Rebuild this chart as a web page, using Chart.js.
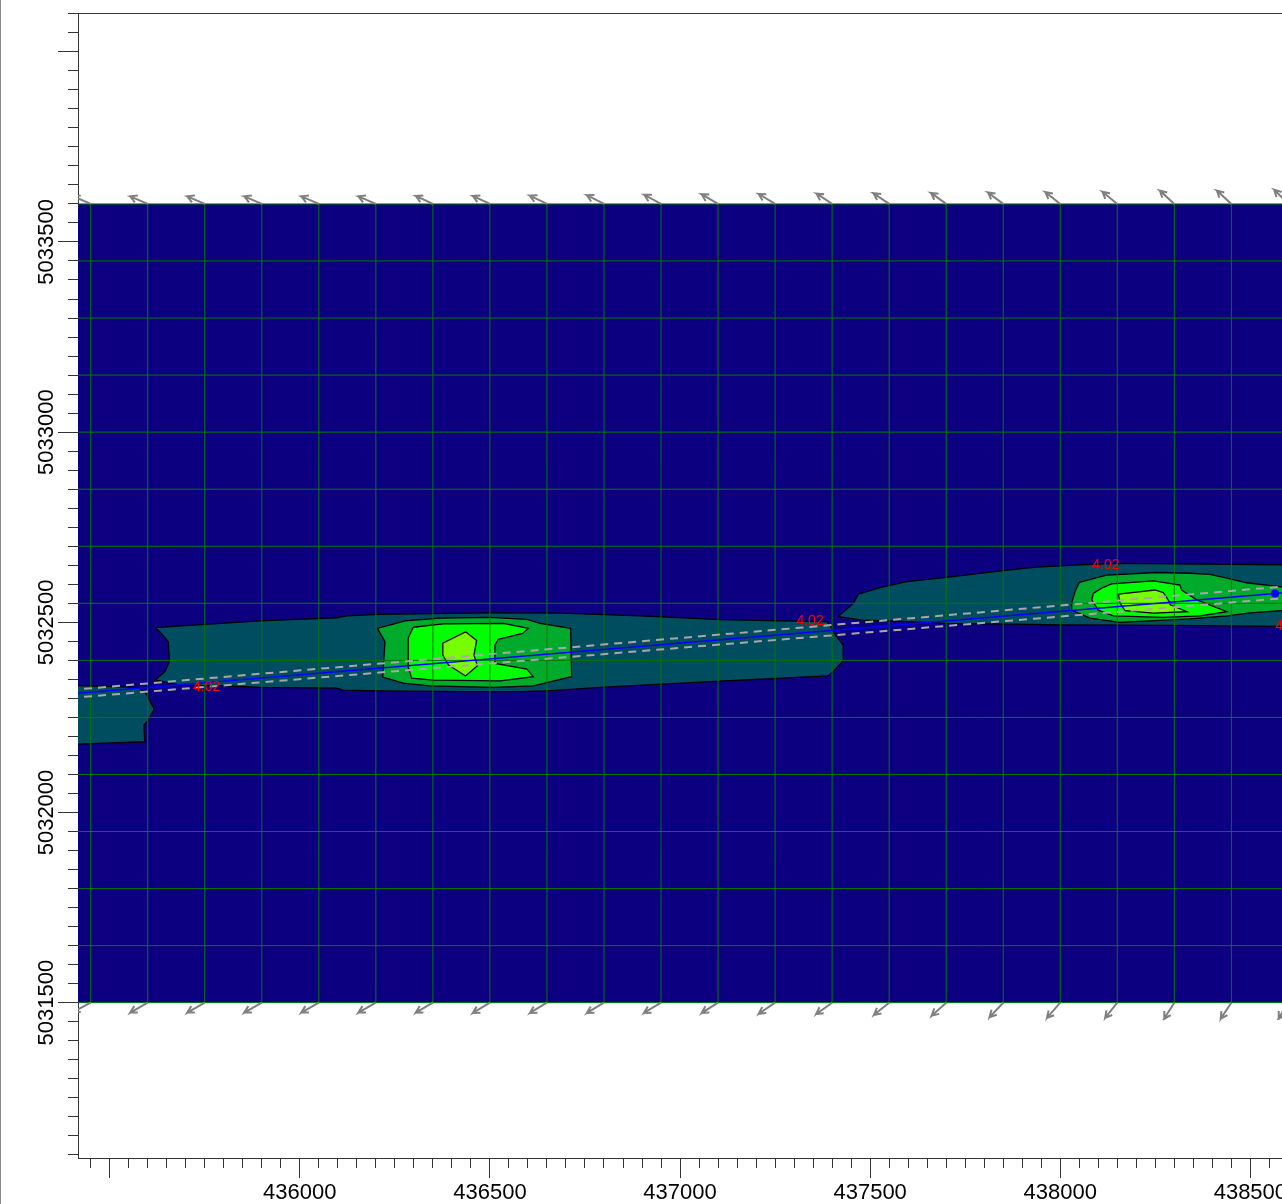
<!DOCTYPE html>
<html lang="en">

<head>
  <meta charset="UTF-8">
  <title>contour map</title>
  <style>
    body { margin: 0; background: #fff; }
    #edge { position: absolute; left: 0; top: 0; width: 1px; height: 1204px; background: #888; }
    canvas { display: block; }
  </style>
</head>

<body>
  <div id="edge"></div>
  <canvas id="myChart" width="1282" height="1204"></canvas>

  <script src="https://cdn.jsdelivr.net/npm/chart.js"></script>
  <script>
    const xLabels = [436000, 436500, 437000, 437500, 438000, 438500]
    const yLabels = [5031500, 5032000, 5032500, 5033000, 5033500]
    const xMajor = [435500, 436000, 436500, 437000, 437500, 438000, 438500]
    const yMajor = [5031500, 5032000, 5032500, 5033000, 5033500, 5034000]

    // model grid nodes
    const gridX = [435450, 435600, 435750, 435900, 436050, 436200, 436350, 436500, 436650, 436800, 436950,
      437100, 437250, 437400, 437550, 437700, 437850, 438000, 438150, 438300, 438450, 438600]
    const gridY = [5031500, 5031650, 5031800, 5031950, 5032100, 5032250, 5032400, 5032550, 5032700,
      5032850, 5033000, 5033150, 5033300, 5033450, 5033600]

    // arrow tip offsets from the top and bottom nodes
    const topDx = [-46, -46, -46, -46, -46, -46, -45, -45, -45, -45, -44, -43, -43, -41, -41, -40, -40, -39, -39, -38, -38, -37]
    const topDy = [20, 20, 20, 20, 20, 20, 21, 21, 22, 23, 24, 25, 26, 27, 28, 29, 30, 31, 32, 35, 35, 37]
    const bottomDx = [-46, -46, -46, -46, -46, -46, -45, -45, -45, -45, -45, -43, -43, -42, -40, -38, -36, -35, -32, -27, -28, -26]
    const bottomDy = [-24, -26, -26, -26, -26, -26, -26, -27, -27, -27, -27, -27, -29, -30, -32, -34, -38, -40, -40, -42, -42, -42]

    const fieldX = [435300, 438700, 438700, 435300]
    const fieldY = [5031500, 5031500, 5033600, 5033600]

    const tealAX = [435396, 435575, 435596, 435604, 435617, 435606, 435600, 435590, 435592, 435396]
    const tealAY = [5032334, 5032329, 5032313, 5032296, 5032272, 5032252, 5032241, 5032230, 5032186, 5032179]

    const tealBX = [435619, 435895, 436097, 436123, 436211, 436500, 436684, 436895, 437105, 437263, 437386, 437399,
      437408, 437429, 437429, 437403, 437388, 437263, 437053, 436790, 436649, 436579, 436421, 436211, 436114, 436097,
      435895, 435808, 435685, 435632, 435619, 435645, 435657, 435654, 435632]
    const tealBY = [5032486, 5032504, 5032512, 5032517, 5032521, 5032525, 5032524, 5032517, 5032507, 5032504, 5032502, 5032484,
      5032467, 5032440, 5032399, 5032370, 5032359, 5032353, 5032343, 5032329, 5032320, 5032318, 5032318, 5032320, 5032322, 5032327,
      5032329, 5032333, 5032335, 5032346, 5032348, 5032370, 5032397, 5032449, 5032475]

    const tealCX = [437416, 437456, 437469, 437526, 437596, 437701, 437850, 437938, 438052, 438157, 438631, 438631,
      438297, 437999, 437876, 437702, 437552, 437478]
    const tealCY = [5032515, 5032550, 5032574, 5032591, 5032607, 5032618, 5032636, 5032645, 5032651, 5032655, 5032651, 5032489,
      5032492, 5032493, 5032495, 5032497, 5032504, 5032506]

    const greenAX = [436204, 436277, 436369, 436500, 436597, 436632, 436712, 436715, 436614, 436509, 436342, 436272, 436218, 436224]
    const greenAY = [5032484, 5032504, 5032511, 5032513, 5032508, 5032497, 5032484, 5032357, 5032333, 5032329, 5032333, 5032340, 5032356, 5032449]

    const brightAX = [436298, 436377, 436535, 436601, 436586, 436522, 436513, 436513, 436597, 436614, 436527, 436351, 436294, 436285, 436285]
    const brightAY = [5032487, 5032496, 5032497, 5032484, 5032471, 5032455, 5032440, 5032392, 5032377, 5032357, 5032346, 5032348, 5032353, 5032383, 5032458]

    const limeAX = [436436, 436465, 436458, 436467, 436436, 436391, 436376, 436376]
    const limeAY = [5032475, 5032452, 5032414, 5032386, 5032359, 5032388, 5032414, 5032445]

    const greenCX = [438050, 438122, 438254, 438341, 438394, 438438, 438490, 438583, 438631, 438631, 438583, 438499, 438439,
      438341, 438157, 438078, 438030, 438030, 438039]
    const greenCY = [5032605, 5032624, 5032631, 5032629, 5032626, 5032616, 5032604, 5032593, 5032588, 5032535, 5032531, 5032525, 5032517,
      5032509, 5032500, 5032511, 5032532, 5032551, 5032581]

    const brightCX = [438087, 438109, 438135, 438245, 438315, 438319, 438359, 438438, 438368, 438270, 438140, 438100, 438083]
    const brightCY = [5032576, 5032590, 5032601, 5032609, 5032598, 5032585, 5032559, 5032528, 5032517, 5032513, 5032517, 5032532, 5032559]

    const limeCX = [438153, 438249, 438271, 438287, 438289, 438333, 438245, 438170, 438157]
    const limeCY = [5032574, 5032585, 5032578, 5032554, 5032546, 5032528, 5032524, 5032531, 5032551]

    const blueX = [435396, 438565, 438631]
    const blueY = [5032312, 5032576, 5032581]
    const dashUpperX = [435396, 438631]
    const dashUpperY = [5032322, 5032598]
    const dashLowerX = [435396, 438631]
    const dashLowerY = [5032301, 5032567]

    const contourLabels = ['4.02', '4.02', '4.02', '4.02']
    const labelX = [435755, 437342, 438120, 438601]
    const labelY = [5032330, 5032503, 5032650, 5032490]

    const zip = (xs, ys) => xs.map((x, i) => ({ x: x, y: ys[i] }))
    const closed = (xs, ys) => { const p = zip(xs, ys); p.push(p[0]); return p }

    const polygon = (xs, ys, color, outline = '#000') => ({
      type: 'line',
      data: closed(xs, ys),
      fill: 'shape',
      backgroundColor: color,
      borderColor: outline,
      borderWidth: 1.3,
      pointRadius: 0,
      tension: 0
    })

    const gap = { x: null, y: null }
    const gridPoints = []
    gridX.forEach(x => gridPoints.push({ x: x, y: gridY[0] }, { x: x, y: gridY[gridY.length - 1] }, gap))
    gridY.forEach(y => gridPoints.push({ x: 435300, y: y }, { x: 438700, y: y }, gap))

    const arrowPoints = (nodeY, dxs, dys) => {
      const pts = []
      gridX.forEach((x, i) => {
        const tip = { x: x + dxs[i], y: nodeY + dys[i] }
        const a = Math.atan2(dys[i], dxs[i]) + Math.PI
        pts.push({ x: x, y: nodeY }, tip)
        pts.push({ x: tip.x + 20 * Math.cos(a + 0.5), y: tip.y + 20 * Math.sin(a + 0.5) }, tip)
        pts.push({ x: tip.x + 20 * Math.cos(a - 0.5), y: tip.y + 20 * Math.sin(a - 0.5) }, gap)
      })
      return pts
    }

    const arrows = (pts) => ({ data: pts, borderColor: '#808080', borderWidth: 2, pointRadius: 0, tension: 0, fill: false })

    // painting order, last on top
    const layers = [
      polygon(fieldX, fieldY, '#0c0080', 'transparent'),
      polygon(tealAX, tealAY, '#004d60'),
      polygon(tealBX, tealBY, '#004d60'),
      polygon(tealCX, tealCY, '#004d60'),
      polygon(greenAX, greenAY, '#00aa2b'),
      polygon(greenCX, greenCY, '#00aa2b'),
      polygon(brightAX, brightAY, '#00ff00'),
      polygon(brightCX, brightCY, '#00ff00'),
      polygon(limeAX, limeAY, '#76ff00'),
      polygon(limeCX, limeCY, '#76ff00'),
      { data: gridPoints, borderColor: '#007a00', borderWidth: 1, pointRadius: 0, tension: 0, fill: false },
      arrows(arrowPoints(gridY[gridY.length - 1], topDx, topDy)),
      arrows(arrowPoints(gridY[0], bottomDx, bottomDy)),
      { data: zip(dashUpperX, dashUpperY), borderColor: '#a8a8a8', borderWidth: 2, borderDash: [8, 6], pointRadius: 0, fill: false },
      { data: zip(dashLowerX, dashLowerY), borderColor: '#a8a8a8', borderWidth: 2, borderDash: [8, 6], pointRadius: 0, fill: false },
      { data: zip(blueX, blueY), borderColor: '#0000ff', borderWidth: 1.5, backgroundColor: '#0000ff', pointRadius: [0, 4, 0], pointBorderWidth: 0, fill: false }
    ]

    const minorTicks = (from, to) => {
      const t = []
      for (let v = from; v <= to; v += 50) t.push({ value: v })
      return t
    }

    const mapExtras = {
      id: 'mapExtras',
      afterDatasetsDraw(chart) {
        const { ctx, scales } = chart
        ctx.save()
        ctx.font = '14px "Liberation Sans"'
        ctx.fillStyle = '#ff0000'
        ctx.textAlign = 'center'
        ctx.textBaseline = 'middle'
        contourLabels.forEach((s, i) => ctx.fillText(s, scales.x.getPixelForValue(labelX[i]), scales.y.getPixelForValue(labelY[i])))
        ctx.restore()
      },
      afterDraw(chart) {
        const { ctx, scales, chartArea } = chart
        ctx.save()
        ctx.strokeStyle = '#333'
        ctx.lineWidth = 1
        ctx.beginPath()
        ctx.moveTo(chartArea.left, chartArea.top + 0.5)
        ctx.lineTo(chartArea.right, chartArea.top + 0.5)
        scales.x.ticks.forEach(t => {
          const p = Math.floor(scales.x.getPixelForValue(t.value)) + 0.5
          ctx.moveTo(p, chartArea.bottom)
          ctx.lineTo(p, chartArea.bottom + (xMajor.includes(t.value) ? 20 : 10))
        })
        scales.y.ticks.forEach(t => {
          const p = Math.floor(scales.y.getPixelForValue(t.value)) + 0.5
          ctx.moveTo(chartArea.left, p)
          ctx.lineTo(chartArea.left - (yMajor.includes(t.value) ? 20 : 10), p)
        })
        ctx.stroke()
        ctx.restore()
      }
    }

    new Chart(document.getElementById('myChart'), {
      type: 'line',
      data: { datasets: layers.reverse() },
      plugins: [mapExtras],
      options: {
        responsive: false,
        animation: false,
        events: [],
        layout: { autoPadding: false, padding: { top: 13 } },
        plugins: { legend: { display: false }, tooltip: { enabled: false } },
        scales: {
          x: {
            type: 'linear',
            min: 435416.6,
            max: 438583.2,
            afterBuildTicks: axis => { axis.ticks = minorTicks(435450, 438550) },
            afterFit: axis => { axis.height = 46; axis.paddingLeft = 0; axis.paddingRight = 0 },
            grid: { display: false, drawTicks: false },
            border: { color: '#333' },
            ticks: {
              autoSkip: false,
              maxRotation: 0,
              padding: 22,
              color: '#000',
              font: { family: '"Liberation Sans"', size: 22 },
              callback: v => xLabels.includes(v) ? String(v) : ''
            }
          },
          y: {
            type: 'linear',
            min: 5031091.7,
            max: 5034101.9,
            afterBuildTicks: axis => { axis.ticks = minorTicks(5031100, 5034100) },
            afterFit: axis => { axis.width = 78 },
            grid: { display: false, drawTicks: false },
            border: { color: '#333' },
            ticks: {
              autoSkip: false,
              minRotation: 90,
              maxRotation: 90,
              crossAlign: 'center',
              padding: -11.5,
              color: '#000',
              font: { family: '"Liberation Sans"', size: 22 },
              callback: v => yLabels.includes(v) ? String(v) : ''
            }
          }
        }
      }
    })
  </script>
</body>

</html>
